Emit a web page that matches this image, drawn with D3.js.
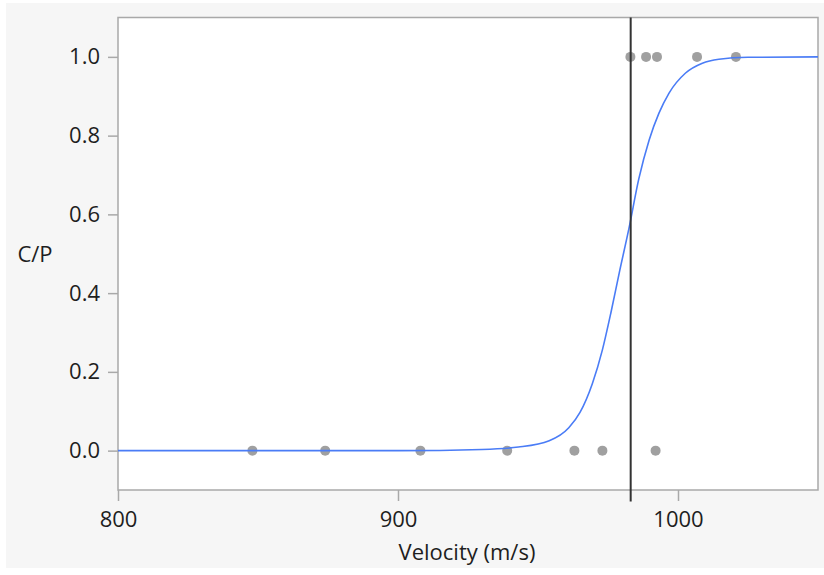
<!DOCTYPE html>
<html>
<head>
<meta charset="utf-8">
<script src="https://cdn.jsdelivr.net/npm/d3@7"></script>
<style>
  html, body { margin: 0; padding: 0; background: #ffffff; }
  svg { display: block; }
  text { font-family: "Open Sans", "Noto Sans", sans-serif; fill: #1e1e1e; }
</style>
</head>
<body>
<svg id="chart" width="824" height="575"></svg>
<script>
// Observed outcomes: velocity (m/s) and complete penetration (1) or partial (0)
const failVelocity = [848, 874, 908, 939, 963, 973, 992];
const failOutcome  = [0, 0, 0, 0, 0, 0, 0];
const passVelocity = [983, 988.6, 992.5, 1006.8, 1020.7];
const passOutcome  = [1, 1, 1, 1, 1];

// Fitted probability curve (velocity, C/P)
const curveVelocity = [800, 850, 900, 930, 943, 954, 961, 965, 969.4, 973, 976, 979, 982.5, 986, 989.7, 993.2, 996.8, 1002.7, 1008.7, 1014.6, 1025, 1050];
const curveProb     = [0, 0, 0, 0.003, 0.009, 0.025, 0.058, 0.097, 0.17, 0.256, 0.349, 0.451, 0.565, 0.69, 0.789, 0.857, 0.908, 0.959, 0.984, 0.994, 0.999, 1.0];

// Reference velocity marked by the vertical line
const markerVelocity = 983.1;

// Axis ticks
const xMajorTicks = [800, 900, 1000];
const xMinorTicks = [850, 950, 1050];
const yMajorTicks = [0, 0.2, 0.4, 0.6, 0.8, 1.0];
const yMinorTicks = [-0.1, 0.1, 0.3, 0.5, 0.7, 0.9, 1.1];

const xLabel = "Velocity (m/s)";
const yLabel = "C/P";

const svg = d3.select("#chart");
const plot = { left: 118, right: 818, top: 17.5, bottom: 490 };

// Panel background
svg.append("rect")
  .attr("x", 6).attr("y", 3)
  .attr("width", 818).attr("height", 565)
  .attr("fill", "#f6f6f6");

const x = d3.scaleLinear().domain([800, 1050]).range([plot.left, plot.right]);
const y = d3.scaleLinear().domain([-0.1, 1.1]).range([plot.bottom, plot.top]);

// Plot frame
svg.append("rect")
  .attr("x", plot.left).attr("y", plot.top)
  .attr("width", plot.right - plot.left).attr("height", plot.bottom - plot.top)
  .attr("fill", "#ffffff")
  .attr("stroke", "#a9a9a9").attr("stroke-width", 1.5);

const fontSize = 22;

// X axis
const gx = svg.append("g").attr("transform", `translate(0,${plot.bottom})`);
gx.call(d3.axisBottom(x).tickValues(xMinorTicks).tickSize(6).tickFormat(""));
gx.call(d3.axisBottom(x).tickValues(xMajorTicks).tickSize(11).tickPadding(10).tickFormat(d3.format("d")));
gx.selectAll(".domain").remove();
gx.selectAll("line").attr("stroke", "#a9a9a9").attr("stroke-width", 1.5);
gx.selectAll("text").style("font-size", fontSize + "px").attr("fill", "#1e1e1e");

// Y axis
const gy = svg.append("g").attr("transform", `translate(${plot.left},0)`);
gy.call(d3.axisLeft(y).tickValues(yMinorTicks).tickSize(5).tickFormat(""));
gy.call(d3.axisLeft(y).tickValues(yMajorTicks).tickSize(10).tickPadding(8).tickFormat(d3.format(".1f")));
gy.selectAll(".domain").remove();
gy.selectAll("line").attr("stroke", "#a9a9a9").attr("stroke-width", 1.5);
gy.selectAll("text").style("font-size", fontSize + "px").attr("fill", "#1e1e1e");

// Axis titles
svg.append("text")
  .attr("x", (plot.left + plot.right) / 2 - 1).attr("y", 560)
  .attr("text-anchor", "middle")
  .style("font-size", fontSize + "px")
  .text(xLabel);
svg.append("text")
  .attr("x", 35).attr("y", 262)
  .attr("text-anchor", "middle")
  .style("font-size", fontSize + "px")
  .text(yLabel);

// Data points
const points = failVelocity.map((v, i) => ({ v, p: failOutcome[i] }))
  .concat(passVelocity.map((v, i) => ({ v, p: passOutcome[i] })));
svg.append("g").selectAll("circle")
  .data(points).join("circle")
  .attr("cx", d => x(d.v)).attr("cy", d => y(d.p))
  .attr("r", 5)
  .attr("fill", "#a0a0a0");

// Fitted curve
const curve = curveVelocity.map((v, i) => ({ v, p: curveProb[i] }));
svg.append("path")
  .datum(curve)
  .attr("fill", "none")
  .attr("stroke", "#4a7cf6")
  .attr("stroke-width", 1.6)
  .attr("d", d3.line().x(d => x(d.v)).y(d => y(d.p)).curve(d3.curveMonotoneX));

// Marker line
svg.append("line")
  .attr("x1", x(markerVelocity)).attr("x2", x(markerVelocity))
  .attr("y1", plot.top).attr("y2", plot.bottom + 11.5)
  .attr("stroke", "#333333").attr("stroke-width", 2);
</script>
</body>
</html>
